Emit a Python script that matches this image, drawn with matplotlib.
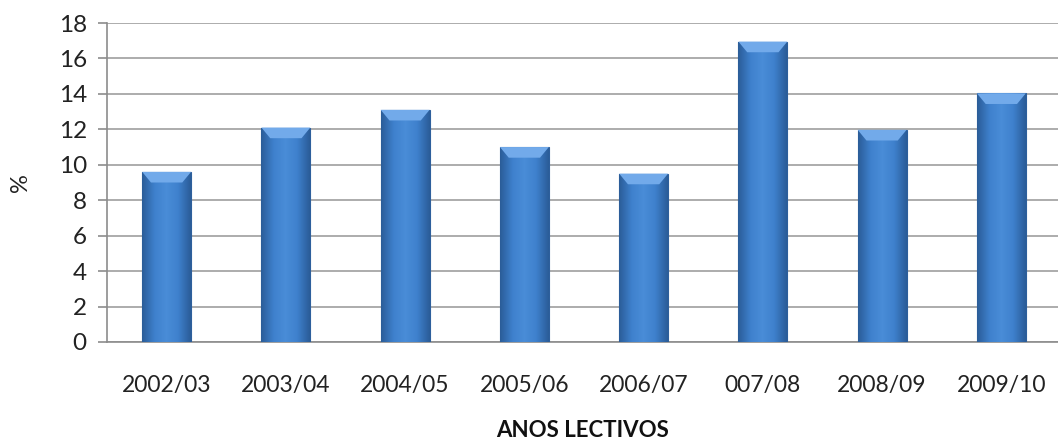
import numpy as np
import matplotlib
matplotlib.use("Agg")
import matplotlib.pyplot as plt
from matplotlib.colors import LinearSegmentedColormap

# dados
anos = ["2002/03", "2003/04", "2004/05", "2005/06", "2006/07", "007/08", "2008/09", "2009/10"]
valores = [9.6, 12.1, 13.1, 11.0, 9.5, 16.95, 11.97, 14.03]

plt.rcParams['font.family'] = ['Lato', 'DejaVu Sans']

fig = plt.figure(figsize=(10.58, 4.45), dpi=100)
ax = fig.add_axes([107 / 1058, 1 - 342 / 445, (1058 - 107) / 1058, 319 / 445])

barras = ax.bar(range(len(anos)), valores, width=0.41, color="#3B7CC8",
                edgecolor="#2D5F9C", linewidth=0.8, zorder=3)

# gradiente tipo bisel dentro de cada barra
cmap = LinearSegmentedColormap.from_list("bisel", ["#2B5D99", "#3E80CC", "#4A8DD8", "#3E80CC", "#2B5D99"])
grad = np.tile(np.linspace(0, 1, 64), (64, 1))
for b in barras:
    x0, w, h = b.get_x(), b.get_width(), b.get_height()
    im = ax.imshow(grad, cmap=cmap, aspect="auto", extent=(x0, x0 + w, 0, h), zorder=3.5)
    im.set_clip_path(b)
    # faixa clara no topo (bisel)
    ax.fill([x0, x0 + w, x0 + w * 0.82, x0 + w * 0.18], [h, h, h - 0.6, h - 0.6],
            color="#72AAEA", zorder=4, lw=0)

ax.set_xlim(-0.5, 7.475)
ax.set_ylim(0, 18)
ax.set_yticks(range(0, 19, 2))
ax.set_xticks(range(len(anos)))
ax.set_xticklabels(anos)

ax.yaxis.grid(True, color="#A6A6A6", linewidth=1.3, zorder=0)
ax.set_axisbelow(True)
for lado in ["top", "right"]:
    ax.spines[lado].set_visible(False)
ax.spines["left"].set_color("#8C8C8C")
ax.spines["bottom"].set_color("#8C8C8C")
ax.spines["left"].set_linewidth(1.2)
ax.spines["bottom"].set_linewidth(1.2)

ax.tick_params(axis="y", length=6.5, color="#8C8C8C", width=1.2, pad=8, labelsize=17.5, labelcolor="#222222")
ax.tick_params(axis="x", length=0, pad=24, labelsize=16.5, labelcolor="#222222")

ax.set_ylabel("%", fontsize=17, color="#222222", labelpad=20)
ax.set_xlabel("ANOS LECTIVOS", fontsize=16, fontweight="bold", color="#111111", labelpad=17)

fig.savefig("out.png", dpi=100, facecolor="white")
